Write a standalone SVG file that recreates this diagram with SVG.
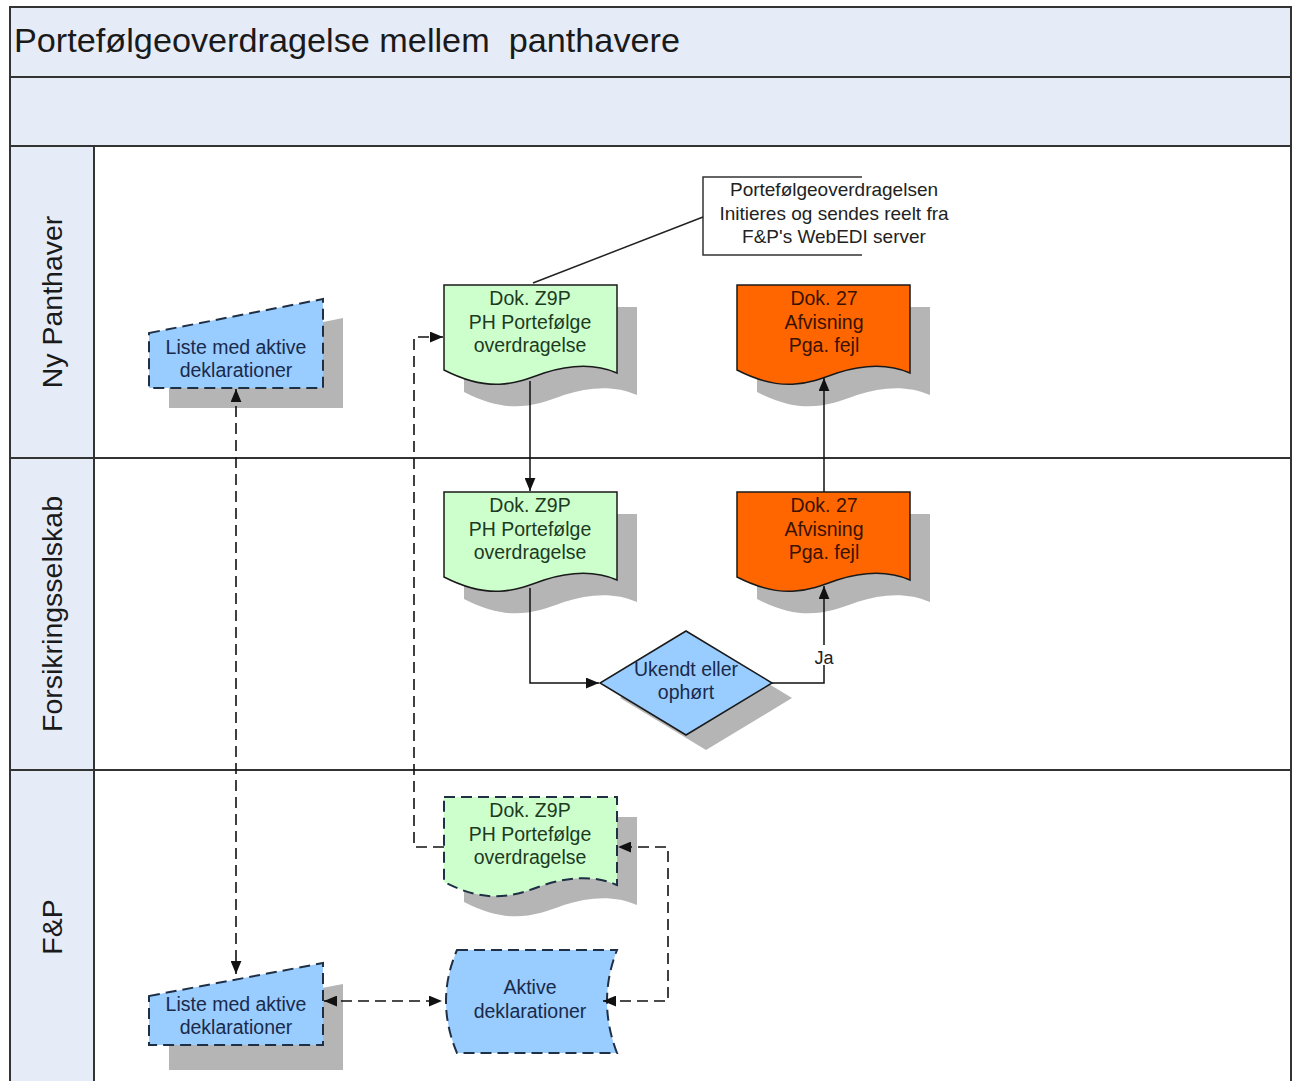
<svg xmlns="http://www.w3.org/2000/svg" width="1299" height="1081" viewBox="0 0 1299 1081">
<defs>
<style>
.t{font-family:"Liberation Sans",Arial,sans-serif;}
.nt{font-family:"Liberation Sans",Arial,sans-serif;font-size:19.5px;text-anchor:middle;}
.lane{font-family:"Liberation Sans",Arial,sans-serif;font-size:28.5px;fill:#1a1a1a;text-anchor:middle;}
.hdr{fill:#e6ecf7;stroke:#333;stroke-width:2;}
.sh{fill:#b5b5b5;}
.green{fill:#ccffcc;stroke:#1a1a1a;stroke-width:1.5;}
.orange{fill:#ff6600;stroke:#1a1a1a;stroke-width:1.5;}
.blue{fill:#99ccff;stroke:#1a1a1a;stroke-width:1.5;}
.dash{stroke:#1f2f44;stroke-width:2;stroke-dasharray:11 6;}
.conn{fill:none;stroke:#111;stroke-width:1.5;}
.dconn{fill:none;stroke:#111;stroke-width:1.6;stroke-dasharray:11 6;}
</style>
<path id="doc" d="M0,0 H173 V88 C150,78 125,80 100,88 C70,99 45,108 0,85 Z"/>
<marker id="ar" viewBox="0 0 12 10" refX="12" refY="5" markerWidth="13" markerHeight="11" markerUnits="userSpaceOnUse" orient="auto-start-reverse">
<path d="M0,0 L12,5 L0,10 Z" fill="#111"/>
</marker>
</defs>
<rect width="1299" height="1081" fill="#ffffff"/>

<g id="pool">
<rect class="hdr" x="10" y="7" width="1281" height="70"/>
<rect class="hdr" x="10" y="77" width="1281" height="69"/>
<rect x="10" y="146" width="1281" height="940" fill="#ffffff" stroke="#333" stroke-width="2"/>
<rect class="hdr" x="10" y="146" width="84" height="940"/>
<line x1="10" y1="458" x2="1291" y2="458" stroke="#333" stroke-width="2"/>
<line x1="10" y1="770" x2="1291" y2="770" stroke="#333" stroke-width="2"/>
<text class="t" x="14" y="52" font-size="33" fill="#1a1a1a" textLength="666" lengthAdjust="spacingAndGlyphs" xml:space="preserve">Portefølgeoverdragelse mellem  panthavere</text>
</g>

<g id="lane-ny-panthaver"><text class="lane" transform="translate(62,302) rotate(-90)">Ny Panthaver</text></g>
<g id="lane-forsikringsselskab"><text class="lane" transform="translate(62,614) rotate(-90)">Forsikringsselskab</text></g>
<g id="lane-fp"><text class="lane" transform="translate(62,927) rotate(-90)">F&amp;P</text></g>

<g id="note">
<polyline points="862,177 703,177 703,255 862,255" fill="none" stroke="#333" stroke-width="1.5"/>
<text class="t" font-size="19" fill="#222" text-anchor="middle"><tspan x="834" y="196">Portefølgeoverdragelsen</tspan><tspan x="834" y="220">Initieres og sendes reelt fra</tspan><tspan x="834" y="243">F&amp;P's WebEDI server</tspan></text>
</g>

<g id="liste-ny">
<polygon class="sh" points="169,353 343,318 343,408 169,408"/>
<polygon class="blue dash" points="149,333 323,299 323,388 149,388"/>
<text class="nt" fill="#1a2a4a"><tspan x="236" y="354">Liste med aktive</tspan><tspan x="236" y="377">deklarationer</tspan></text>
</g>

<g id="z9p-ny">
<use href="#doc" class="sh" transform="translate(464,307)"/>
<use href="#doc" class="green" transform="translate(444,285)"/>
<text class="nt" fill="#1e3a1e"><tspan x="530" y="305">Dok. Z9P</tspan><tspan x="530" y="329">PH Portefølge</tspan><tspan x="530" y="352">overdragelse</tspan></text>
</g>

<g id="dok27-ny">
<use href="#doc" class="sh" transform="translate(757,307)"/>
<use href="#doc" class="orange" transform="translate(737,285)"/>
<text class="nt" fill="#3a1200"><tspan x="824" y="305">Dok. 27</tspan><tspan x="824" y="329">Afvisning</tspan><tspan x="824" y="352">Pga. fejl</tspan></text>
</g>

<g id="z9p-fors">
<use href="#doc" class="sh" transform="translate(464,514)"/>
<use href="#doc" class="green" transform="translate(444,492)"/>
<text class="nt" fill="#1e3a1e"><tspan x="530" y="512">Dok. Z9P</tspan><tspan x="530" y="536">PH Portefølge</tspan><tspan x="530" y="559">overdragelse</tspan></text>
</g>

<g id="dok27-fors">
<use href="#doc" class="sh" transform="translate(757,514)"/>
<use href="#doc" class="orange" transform="translate(737,492)"/>
<text class="nt" fill="#3a1200"><tspan x="824" y="512">Dok. 27</tspan><tspan x="824" y="536">Afvisning</tspan><tspan x="824" y="559">Pga. fejl</tspan></text>
</g>

<g id="diamond">
<polygon class="sh" points="706,646 792,698 706,750 620,698"/>
<polygon class="blue" points="686,631 772,683 686,735 600,683"/>
<text class="nt" fill="#1a2a4a"><tspan x="686" y="676">Ukendt eller</tspan><tspan x="686" y="699">ophørt</tspan></text>
</g>

<g id="z9p-fp">
<use href="#doc" class="sh" transform="translate(464,817)"/>
<use href="#doc" class="green dash" transform="translate(444,797)"/>
<text class="nt" fill="#1e3a1e"><tspan x="530" y="817">Dok. Z9P</tspan><tspan x="530" y="841">PH Portefølge</tspan><tspan x="530" y="864">overdragelse</tspan></text>
</g>

<g id="liste-fp">
<polygon class="sh" points="169,1017 343,984 343,1070 169,1070"/>
<polygon class="blue dash" points="149,996 323,963 323,1045 149,1045"/>
<text class="nt" fill="#1a2a4a"><tspan x="236" y="1011">Liste med aktive</tspan><tspan x="236" y="1034">deklarationer</tspan></text>
</g>

<g id="aktive">
<path class="blue dash" d="M457,950 H617 Q597,1001 617,1053 H457 Q435,1001 457,950 Z"/>
<text class="nt" fill="#1a2a4a"><tspan x="530" y="994">Aktive</tspan><tspan x="530" y="1018">deklarationer</tspan></text>
</g>

<g id="connectors">
<line x1="533" y1="283" x2="703" y2="217" stroke="#222" stroke-width="1.5"/>
<path class="conn" d="M530,381 V491" marker-end="url(#ar)"/>
<path class="conn" d="M530,588 V683 H599" marker-end="url(#ar)"/>
<path class="conn" d="M772,683 H824 V586" marker-end="url(#ar)"/>
<path class="conn" d="M824,492 V378" stroke="#444" marker-end="url(#ar)"/>
<path class="dconn" d="M236,389 V974" marker-start="url(#ar)" marker-end="url(#ar)"/>
<path class="dconn" d="M444,847 H414 V337 H443" marker-end="url(#ar)"/>
<path class="dconn" d="M603,1001 H668 V847 H618" marker-start="url(#ar)" marker-end="url(#ar)"/>
<path class="dconn" d="M324,1001 H442" marker-start="url(#ar)" marker-end="url(#ar)"/>
<rect x="812" y="645" width="24" height="20" fill="#ffffff"/>
<text class="t" x="824" y="664" font-size="18" fill="#222" text-anchor="middle">Ja</text>
</g>
</svg>
